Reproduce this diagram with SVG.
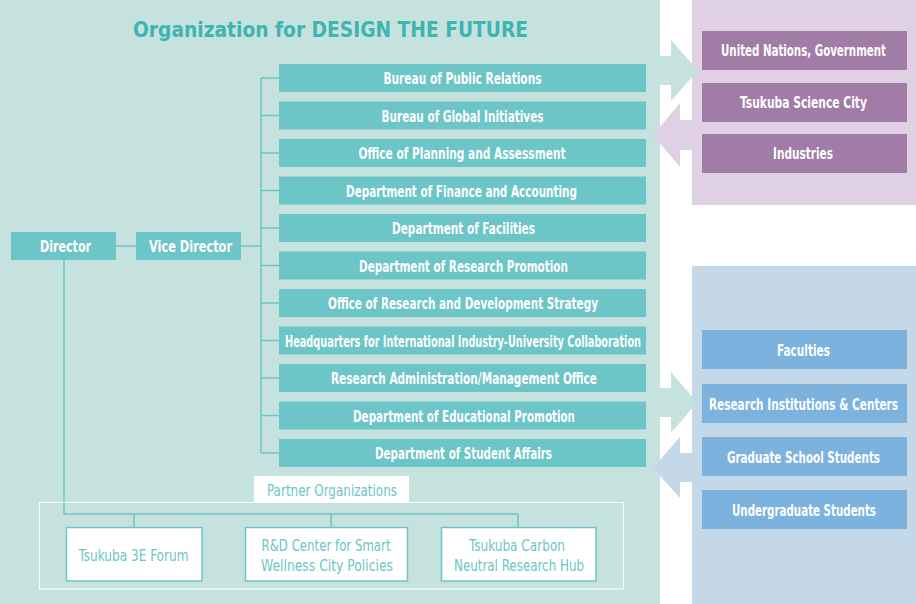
<svg xmlns="http://www.w3.org/2000/svg" width="916" height="604" viewBox="0 0 916 604">
<style>
text{font-family:"Liberation Sans Narrow","DejaVu Sans Condensed","DejaVu Sans",sans-serif;font-stretch:condensed;font-weight:bold;text-anchor:middle}
.tb{fill:#6cc5c6}
.tt{fill:#ffffff;font-size:15px}
.pb{fill:#a07ca6}
.bb{fill:#7bb3de}
.wt{fill:#ffffff;font-size:15px}
.ln{stroke:#6cc5c6;stroke-width:1.5;fill:none}
.pt{fill:#6cc5c6;font-size:15px;font-weight:normal}
.pbox{fill:#ffffff;stroke:#6cc5c6;stroke-width:1.5}
</style>
<rect x="0" y="0" width="916" height="604" fill="#ffffff"/>
<rect x="0" y="0" width="660" height="604" fill="#c6e2df"/>
<rect x="692" y="0" width="224" height="205" fill="#dfd0e3"/>
<rect x="692" y="266" width="224" height="338" fill="#c5d8e8"/>

<g id="arrows">
<polygon points="655,56 671,56 671,40 698,70.5 671,101 671,85 655,85" fill="#c6e2df"/>
<polygon points="653,135 680,103 680,120 697,120 697,150 680,150 680,167" fill="#dfd0e3"/>
<polygon points="655,388 671,388 671,372 697,402.5 671,433 671,417 655,417" fill="#c6e2df"/>
<polygon points="653,468 680,437 680,453 697,453 697,482 680,482 680,498" fill="#c5d8e8"/>
</g>

<text id="title" x="330.5" y="37" font-size="22" fill="#3db5b1" textLength="395" lengthAdjust="spacingAndGlyphs" style="font-weight:bold">Organization for DESIGN THE FUTURE</text>

<g id="connectors" class="ln">
<line x1="116" y1="246" x2="136" y2="246"/>
<line x1="241" y1="246" x2="261" y2="246"/>
<line x1="261" y1="78" x2="261" y2="453"/>
<line x1="261" y1="78" x2="279" y2="78"/>
<line x1="261" y1="115.5" x2="279" y2="115.5"/>
<line x1="261" y1="153" x2="279" y2="153"/>
<line x1="261" y1="190.5" x2="279" y2="190.5"/>
<line x1="261" y1="228" x2="279" y2="228"/>
<line x1="261" y1="265.5" x2="279" y2="265.5"/>
<line x1="261" y1="303" x2="279" y2="303"/>
<line x1="261" y1="340.5" x2="279" y2="340.5"/>
<line x1="261" y1="378" x2="279" y2="378"/>
<line x1="261" y1="415.5" x2="279" y2="415.5"/>
<line x1="261" y1="453" x2="279" y2="453"/>
<polyline points="64,260 64,514 518,514 518,527"/>
<line x1="134" y1="514" x2="134" y2="527"/>
<line x1="331" y1="514" x2="331" y2="527"/>
</g>

<g id="director"><rect class="tb" x="11" y="232" width="105" height="28"/><text class="tt" x="65.5" y="252" font-size="16" textLength="51" lengthAdjust="spacingAndGlyphs">Director</text></g>
<g id="vice-director"><rect class="tb" x="136" y="232" width="105" height="28"/><text class="tt" x="190.5" y="252" font-size="16" textLength="83" lengthAdjust="spacingAndGlyphs">Vice Director</text></g>

<g id="n1"><rect class="tb" x="279" y="64" width="367" height="28"/><text class="tt" x="462.5" y="84" textLength="158" lengthAdjust="spacingAndGlyphs">Bureau of Public Relations</text></g>
<g id="n2"><rect class="tb" x="279" y="101.5" width="367" height="28"/><text class="tt" x="462.5" y="121.5" textLength="162" lengthAdjust="spacingAndGlyphs">Bureau of Global Initiatives</text></g>
<g id="n3"><rect class="tb" x="279" y="139" width="367" height="28"/><text class="tt" x="462" y="159" textLength="207" lengthAdjust="spacingAndGlyphs">Office of Planning and Assessment</text></g>
<g id="n4"><rect class="tb" x="279" y="176.5" width="367" height="28"/><text class="tt" x="461.5" y="196.5" textLength="231" lengthAdjust="spacingAndGlyphs">Department of Finance and Accounting</text></g>
<g id="n5"><rect class="tb" x="279" y="214" width="367" height="28"/><text class="tt" x="463.5" y="234" textLength="143" lengthAdjust="spacingAndGlyphs">Department of Facilities</text></g>
<g id="n6"><rect class="tb" x="279" y="251.5" width="367" height="28"/><text class="tt" x="463.5" y="271.5" textLength="209" lengthAdjust="spacingAndGlyphs">Department of Research Promotion</text></g>
<g id="n7"><rect class="tb" x="279" y="289" width="367" height="28"/><text class="tt" x="463" y="309" textLength="270" lengthAdjust="spacingAndGlyphs">Office of Research and Development Strategy</text></g>
<g id="n8"><rect class="tb" x="279" y="326.5" width="367" height="28"/><text class="tt" x="463" y="346.5" textLength="356" lengthAdjust="spacingAndGlyphs">Headquarters for International Industry-University Collaboration</text></g>
<g id="n9"><rect class="tb" x="279" y="364" width="367" height="28"/><text class="tt" x="464" y="384" textLength="266" lengthAdjust="spacingAndGlyphs">Research Administration/Management Office</text></g>
<g id="n10"><rect class="tb" x="279" y="401.5" width="367" height="28"/><text class="tt" x="464" y="421.5" textLength="222" lengthAdjust="spacingAndGlyphs">Department of Educational Promotion</text></g>
<g id="n11"><rect class="tb" x="279" y="439" width="367" height="28"/><text class="tt" x="463.5" y="459" textLength="177" lengthAdjust="spacingAndGlyphs">Department of Student Affairs</text></g>

<g id="un"><rect class="pb" x="702" y="31" width="205" height="39"/><text class="wt" transform="translate(803.5,56) scale(0.75,1)" x="0" y="0" textLength="220" lengthAdjust="spacingAndGlyphs">United Nations, Government</text></g>
<g id="tsc"><rect class="pb" x="702" y="83" width="205" height="39"/><text class="wt" transform="translate(803.5,108) scale(0.75,1)" x="0" y="0" textLength="169.3" lengthAdjust="spacingAndGlyphs">Tsukuba Science City</text></g>
<g id="ind"><rect class="pb" x="702" y="134" width="205" height="39"/><text class="wt" transform="translate(803,159) scale(0.75,1)" x="0" y="0" textLength="80" lengthAdjust="spacingAndGlyphs">Industries</text></g>

<g id="fac"><rect class="bb" x="702" y="330" width="205" height="39"/><text class="wt" transform="translate(803.5,356) scale(0.75,1)" x="0" y="0" textLength="70.7" lengthAdjust="spacingAndGlyphs">Faculties</text></g>
<g id="ric"><rect class="bb" x="702" y="384" width="205" height="39"/><text class="wt" transform="translate(803.5,409.5) scale(0.75,1)" x="0" y="0" textLength="252" lengthAdjust="spacingAndGlyphs">Research Institutions &amp; Centers</text></g>
<g id="gss"><rect class="bb" x="702" y="437" width="205" height="39"/><text class="wt" transform="translate(803.5,462.5) scale(0.75,1)" x="0" y="0" textLength="204" lengthAdjust="spacingAndGlyphs">Graduate School Students</text></g>
<g id="ugs"><rect class="bb" x="702" y="490" width="205" height="39"/><text class="wt" transform="translate(804,516) scale(0.75,1)" x="0" y="0" textLength="192" lengthAdjust="spacingAndGlyphs">Undergraduate Students</text></g>

<g id="partner-frame">
<rect x="39.5" y="502.5" width="584" height="86.5" fill="none" stroke="#ffffff" stroke-width="1"/>
<rect x="254" y="476" width="155" height="26.5" fill="#ffffff"/>
<text class="pt" x="332" y="496" textLength="130" lengthAdjust="spacingAndGlyphs">Partner Organizations</text>
</g>
<g id="p1"><rect class="pbox" x="66.5" y="527.5" width="135.5" height="53.5"/><text class="pt" x="133.5" y="560.5" textLength="110" lengthAdjust="spacingAndGlyphs">Tsukuba 3E Forum</text></g>
<g id="p2"><rect class="pbox" x="245.5" y="527.5" width="162" height="53.5"/><text class="pt" x="326" y="550.5" textLength="129" lengthAdjust="spacingAndGlyphs">R&amp;D Center for Smart</text><text class="pt" x="327" y="570.5" textLength="132" lengthAdjust="spacingAndGlyphs">Wellness City Policies</text></g>
<g id="p3"><rect class="pbox" x="441.5" y="527.5" width="154.5" height="53.5"/><text class="pt" x="517" y="550.5" textLength="96" lengthAdjust="spacingAndGlyphs">Tsukuba Carbon</text><text class="pt" x="519" y="570.5" textLength="130" lengthAdjust="spacingAndGlyphs">Neutral Research Hub</text></g>
</svg>
